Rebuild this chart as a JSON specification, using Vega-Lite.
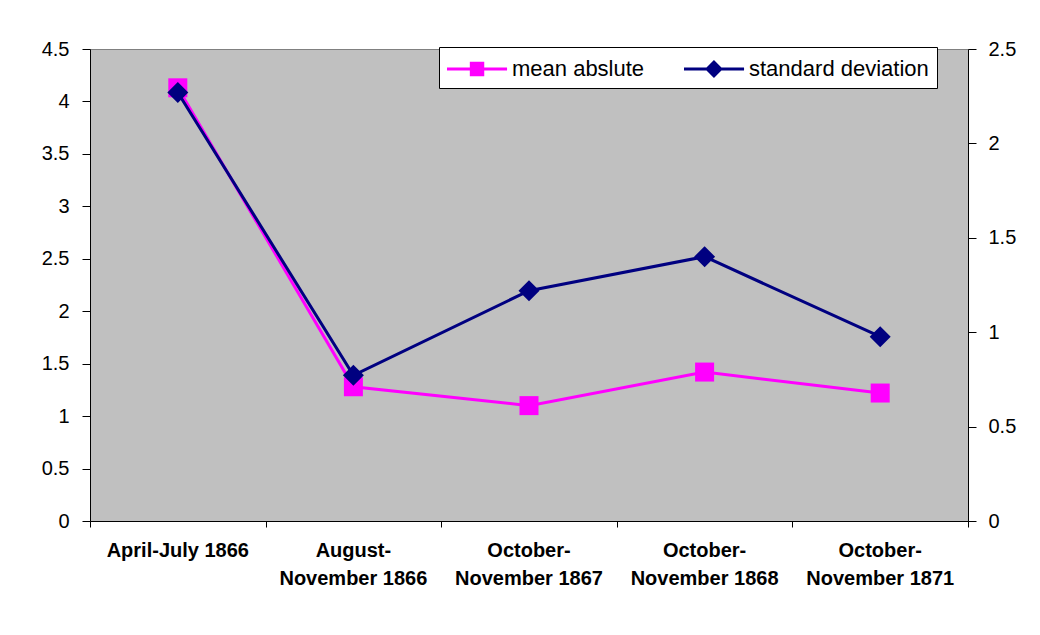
{
  "$schema": "https://vega.github.io/schema/vega-lite/v6.json",
  "width": 878,
  "height": 472,
  "autosize": {"type": "none"},
  "padding": {"left": 90, "top": 49, "right": 72, "bottom": 114},
  "background": "white",
  "config": {
    "view": {"fill": "#C0C0C0", "stroke": "#808080", "strokeWidth": 1},
    "axis": {"labelFont": "Arial", "labelColor": "black", "domainColor": "black", "domainWidth": 1, "tickColor": "black", "tickWidth": 1, "grid": false, "title": null}
  },
  "data": {
    "values": [
      {"period": "April-July 1866", "line1": "April-July 1866", "line2": "", "mean abslute": 4.13, "standard deviation": 2.27},
      {"period": "August-November 1866", "line1": "August-", "line2": "November 1866", "mean abslute": 1.28, "standard deviation": 0.772},
      {"period": "October-November 1867", "line1": "October-", "line2": "November 1867", "mean abslute": 1.1, "standard deviation": 1.22},
      {"period": "October-November 1868", "line1": "October-", "line2": "November 1868", "mean abslute": 1.42, "standard deviation": 1.4},
      {"period": "October-November 1871", "line1": "October-", "line2": "November 1871", "mean abslute": 1.22, "standard deviation": 0.976}
    ]
  },
  "encoding": {
    "x": {
      "field": "period",
      "type": "nominal",
      "sort": null,
      "scale": {"type": "band", "paddingInner": 0, "paddingOuter": 0},
      "axis": {
        "labels": false,
        "tickSize": 6,
        "tickBand": "extent"
      }
    }
  },
  "layer": [
    {
      "encoding": {
        "y": {
          "field": "mean abslute",
          "type": "quantitative",
          "scale": {"domain": [0, 4.5], "nice": false, "zero": true},
          "axis": {"orient": "left", "values": [0, 0.5, 1, 1.5, 2, 2.5, 3, 3.5, 4, 4.5], "format": "~g", "labelFontSize": 20, "tickSize": 8, "labelPadding": 13}
        }
      },
      "layer": [
        {
          "mark": {"type": "line", "strokeWidth": 3, "color": "#FF00FF"}
        },
        {
          "mark": {"type": "point", "shape": "square", "filled": true, "size": 361, "color": "#FF00FF", "opacity": 1}
        },
        {
          "mark": {"type": "text", "font": "Arial", "fontSize": 20, "fontWeight": "bold", "align": "center", "baseline": "middle", "color": "black"},
          "encoding": {"y": {"datum": -0.29}, "text": {"field": "line1"}}
        },
        {
          "mark": {"type": "text", "font": "Arial", "fontSize": 20, "fontWeight": "bold", "align": "center", "baseline": "middle", "color": "black"},
          "encoding": {"y": {"datum": -0.555}, "text": {"field": "line2"}}
        },
        {
          "transform": [{"fold": ["mean abslute", "standard deviation"], "as": ["series", "val"]}],
          "mark": {"type": "point", "filled": true, "opacity": 0},
          "encoding": {
            "color": {
              "field": "series",
              "type": "nominal",
              "scale": {"domain": ["mean abslute", "standard deviation"], "range": ["#FF00FF", "#000080"]},
              "legend": {
                "orient": "none",
                "legendX": 349,
                "legendY": -2,
                "direction": "horizontal",
                "title": null,
                "fillColor": "white",
                "strokeColor": "black",
                "padding": 8,
                "labelFont": "Arial",
                "labelFontSize": 22,
                "labelColor": "black",
                "labelOffset": 37,
                "columnPadding": 39,
                "symbolSize": 784,
                "symbolOpacity": 1,
                "symbolStrokeWidth": 0,
                "labelLimit": 400
              }
            },
            "shape": {
              "field": "series",
              "type": "nominal",
              "scale": {"domain": ["mean abslute", "standard deviation"], "range": ["M-1,-0.11H3.29V0.11H-1Z M0.63,-0.51H1.66V0.51H0.63Z", "M-1,-0.11H3.29V0.11H-1Z M0.5,0L1.14,-0.64L1.78,0L1.14,0.64Z"]},
              "legend": {
                "orient": "none",
                "legendX": 349,
                "legendY": -2,
                "direction": "horizontal",
                "title": null,
                "fillColor": "white",
                "strokeColor": "black",
                "padding": 8,
                "labelFont": "Arial",
                "labelFontSize": 22,
                "labelColor": "black",
                "labelOffset": 37,
                "columnPadding": 39,
                "symbolSize": 784,
                "symbolOpacity": 1,
                "symbolStrokeWidth": 0,
                "labelLimit": 400
              }
            }
          }
        }
      ]
    },
    {
      "encoding": {
        "y": {
          "field": "standard deviation",
          "type": "quantitative",
          "scale": {"domain": [0, 2.5], "nice": false, "zero": true},
          "axis": {"orient": "right", "values": [0, 0.5, 1, 1.5, 2, 2.5], "format": "~g", "labelFontSize": 20, "tickSize": 8, "labelPadding": 12}
        }
      },
      "layer": [
        {
          "mark": {"type": "line", "strokeWidth": 3, "color": "#000080"}
        },
        {
          "mark": {"type": "point", "shape": "diamond", "filled": true, "size": 441, "color": "#000080", "opacity": 1}
        }
      ]
    }
  ],
  "resolve": {"scale": {"y": "independent"}}
}
